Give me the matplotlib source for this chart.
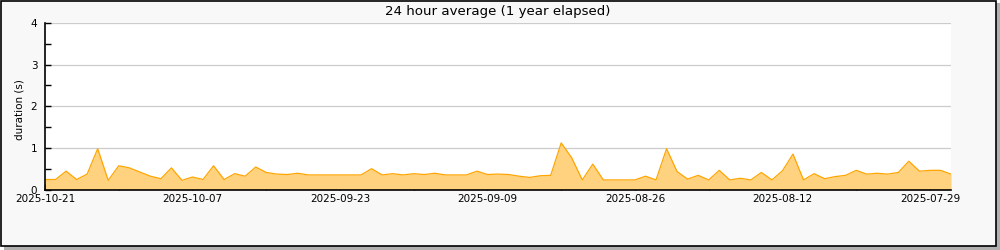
import datetime as dt
import numpy as np
import matplotlib
matplotlib.use("Agg")
import matplotlib.pyplot as plt
from matplotlib.patches import Rectangle

# daily 24h average durations, newest first (2025-10-21 backwards)
start_date = dt.date(2025, 10, 21)
durations = [
    0.24, 0.24, 0.44, 0.24, 0.37, 0.98, 0.22, 0.57, 0.52, 0.42,
    0.32, 0.26, 0.52, 0.22, 0.30, 0.24, 0.57, 0.24, 0.38, 0.32,
    0.54, 0.41, 0.37, 0.36, 0.39, 0.35, 0.35, 0.35, 0.35, 0.35,
    0.35, 0.50, 0.35, 0.38, 0.35, 0.38, 0.36, 0.39, 0.35, 0.35,
    0.35, 0.44, 0.36, 0.37, 0.36, 0.32, 0.29, 0.33, 0.34, 1.12,
    0.76, 0.23, 0.61, 0.23, 0.23, 0.23, 0.23, 0.32, 0.23, 0.98,
    0.43, 0.25, 0.34, 0.23, 0.46, 0.23, 0.27, 0.23, 0.41, 0.23,
    0.45, 0.85, 0.23, 0.38, 0.26, 0.31, 0.34, 0.46, 0.37, 0.39,
    0.37, 0.41, 0.68, 0.44, 0.46, 0.46, 0.37,
]
dates = [start_date - dt.timedelta(days=i) for i in range(len(durations))]
major_dates = dates[::14]
minor_dates = dates[::7]
y_ticks = [0, 1, 2, 3, 4]

title = "24 hour average (1 year elapsed)"
ylabel = "duration (s)"

fig = plt.figure(figsize=(10, 2.5), dpi=100)
fig.patch.set_facecolor("white")

# frame with drop shadow
fig.patches.append(Rectangle((0.004, 0.0), 0.996, 0.988, transform=fig.transFigure,
                             facecolor="#b0b0b0", edgecolor="none", zorder=-3))
fig.patches.append(Rectangle((0.0005, 0.018), 0.995, 0.98, transform=fig.transFigure,
                             facecolor="#f8f8f8", edgecolor="black", linewidth=1.2, zorder=-2))

ax = fig.add_axes([0.045, 0.242, 0.906, 0.666])
ax.set_facecolor("white")

ax.fill_between(dates, durations, 0, color="#ffd280", linewidth=0, zorder=2)
ax.plot(dates, durations, color="#ffa500", linewidth=0.9, zorder=3)

ax.set_xlim(dates[0], dates[-1] - dt.timedelta(days=0.2))
ax.set_ylim(0, 4)

ax.set_xticks(major_dates)
ax.set_xticklabels([d.strftime("%Y-%m-%d") for d in major_dates], fontsize=7.5)
ax.set_xticks(minor_dates, minor=True)
ax.set_yticks(y_ticks)
ax.set_yticklabels([str(v) for v in y_ticks], fontsize=7.5)
ax.set_yticks(np.arange(0.5, 4, 1), minor=True)

ax.tick_params(axis="both", which="both", direction="in", length=4, width=1, color="black")
ax.tick_params(axis="x", pad=3)
ax.tick_params(axis="y", pad=5.5)

ax.grid(axis="y", color="#cccccc", linewidth=0.9, zorder=1)
ax.set_axisbelow(True)
for side in ("top", "right"):
    ax.spines[side].set_visible(False)
for side in ("left", "bottom"):
    ax.spines[side].set_linewidth(1.2)
    ax.spines[side].set_zorder(4)

ax.set_ylabel(ylabel, fontsize=7.5)
ax.yaxis.set_label_coords(-0.0285, 0.483)
ax.yaxis.label.set_verticalalignment("center")
fig.text(0.498, 0.955, title, ha="center", va="center", fontsize=9.6)

fig.savefig("out.png", dpi=100)
